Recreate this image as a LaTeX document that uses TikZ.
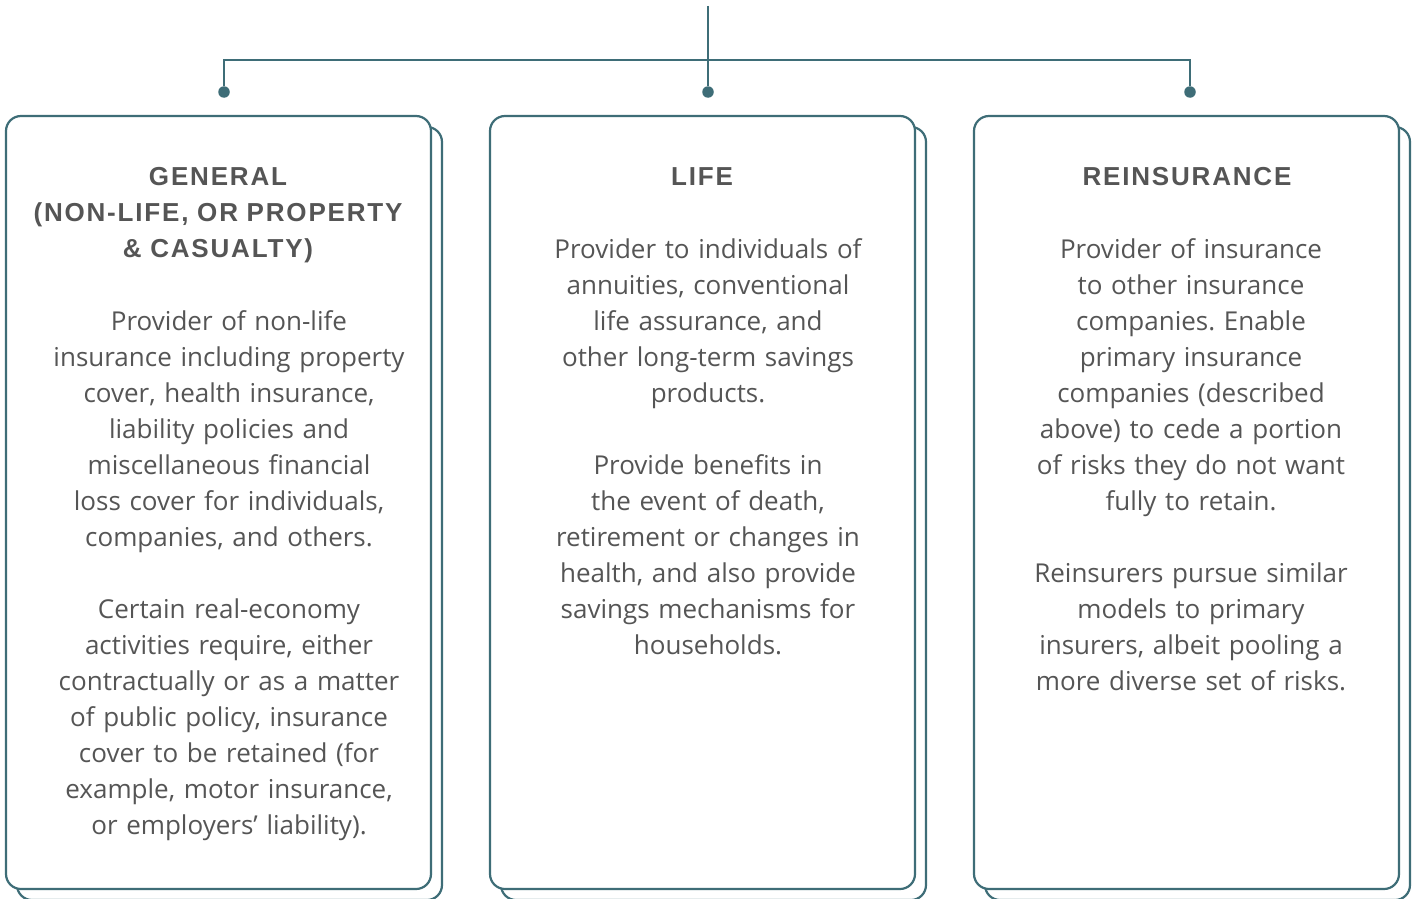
\documentclass[tikz,border=0pt]{standalone}
\usepackage{fontspec}
\setmainfont{Open Sans}
\newfontfamily\headfont[LetterSpace=7]{Liberation Sans}
\frenchspacing
\usetikzlibrary{calc}
\definecolor{linecol}{HTML}{3E6D77}
\definecolor{textcol}{HTML}{555555}
\tikzset{dot/.style={inner sep=0pt,minimum size=11.5pt,circle,fill=linecol}}
\tikzset{link/.style={draw=linecol,line width=2.2pt}}
\tikzset{card/.style={draw=linecol,line width=2.2pt,rounded corners=15pt,fill=white,
    minimum width=425pt,minimum height=773pt,inner sep=0pt}}
\tikzset{head/.style={text=textcol,font=\headfont\bfseries\fontsize{26}{36}\selectfont,
    text width=420pt,align=center,inner sep=0pt,anchor=base}}
\tikzset{body/.style={text=textcol,font=\fontsize{26}{36}\selectfont,
    text width=410pt,align=center,inner sep=0pt,anchor=base}}

\begin{document}
\begin{tikzpicture}[x=1pt,y=-1pt]
\useasboundingbox (0,0) rectangle (1416,899);

\node[card] (gback) at (229.5,513.5) {};
\node[card] (general) at (218.5,502.5) {};
\node[card] (lback) at (713.5,513.5) {};
\node[card] (life) at (702.5,502.5) {};
\node[card] (rback) at (1197.5,513.5) {};
\node[card] (reins) at (1186.5,502.5) {};

\coordinate (top) at (708,6);
\coordinate (j1) at (224,60);
\coordinate (j3) at (1190,60);
\node[dot] (d1) at (224,92) {};
\node[dot] (d2) at (708,92) {};
\node[dot] (d3) at (1190,92) {};
\draw[link] (top) -- (d2);
\draw[link] (d1) -- (j1) -- (j3) -- (d3);

\node[head] (t1) at (218,185) {GENERAL\\(NON-LIFE, OR PROPERTY\\\& CASUALTY)};
\node[head] (t2) at (702,185) {LIFE};
\node[head] (t3) at (1187,185) {REINSURANCE};

\node[body] (b1) at (229,330) {Provider of non-life\\insurance including property\\cover, health insurance,\\
  liability policies and\\miscellaneous financial\\loss cover for individuals,\\companies, and others.\\[36pt]
  Certain real-economy\\activities require, either\\contractually or as a matter\\of public policy, insurance\\
  cover to be retained (for\\example, motor insurance,\\or employers' liability).};
\node[body] (b2) at (708,258) {Provider to individuals of\\annuities, conventional\\life assurance, and\\
  other long-term savings\\products.\\[36pt]
  Provide benefits in\\the event of death,\\retirement or changes in\\health, and also provide\\
  savings mechanisms for\\households.};
\node[body] (b3) at (1191,258) {Provider of insurance\\to other insurance\\companies. Enable\\primary insurance\\
  companies (described\\above) to cede a portion\\of risks they do not want\\fully to retain.\\[36pt]
  Reinsurers pursue similar\\models to primary\\insurers, albeit pooling a\\more diverse set of risks.};
\end{tikzpicture}
\end{document}
